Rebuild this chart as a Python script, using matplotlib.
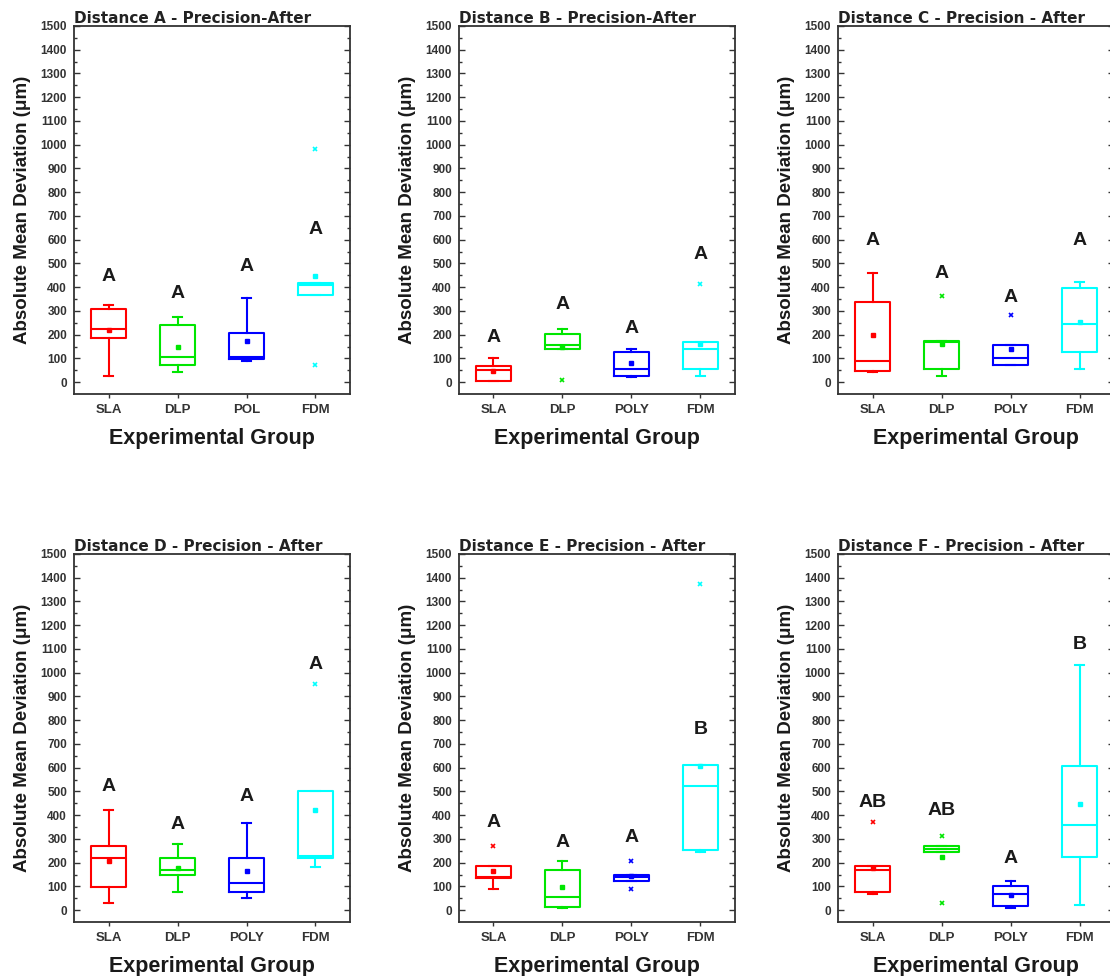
import matplotlib
matplotlib.use("Agg")
import matplotlib.pyplot as plt
import numpy as np

plt.rcParams['font.family'] = ['Liberation Sans', 'DejaVu Sans']

# Data
titles = ["Distance A - Precision-After", "Distance B - Precision-After",
          "Distance C - Precision - After", "Distance D - Precision - After",
          "Distance E - Precision - After", "Distance F - Precision - After"]
group_labels = [["SLA", "DLP", "POL", "FDM"],
                ["SLA", "DLP", "POLY", "FDM"],
                ["SLA", "DLP", "POLY", "FDM"],
                ["SLA", "DLP", "POLY", "FDM"],
                ["SLA", "DLP", "POLY", "FDM"],
                ["SLA", "DLP", "POLY", "FDM"]]
colors = ['#FF0000', '#00E600', '#0000FF', '#00FFFF']

q1 = [[187, 74, 98, 369],
      [6, 138, 24, 56],
      [49, 56, 74, 126],
      [98, 149, 75, 218],
      [135, 15, 124, 255],
      [75, 243, 18, 225]]
med = [[225, 105, 105, 407],
       [52, 157, 56, 138],
       [88, 171, 101, 246],
       [218, 169, 113, 229],
       [138, 56, 138, 521],
       [170, 257, 68, 359]]
q3 = [[306, 239, 206, 418],
      [67, 201, 125, 169],
      [337, 174, 157, 396],
      [269, 218, 218, 501],
      [187, 169, 149, 612],
      [187, 269, 100, 606]]
whis_lo = [[25, 42, 91, 369],
           [6, 138, 21, 24],
           [42, 25, 74, 56],
           [32, 75, 51, 183],
           [89, 8, 124, 243],
           [70, 243, 8, 23]]
whis_hi = [[323, 274, 355, 418],
           [103, 222, 140, 169],
           [459, 174, 157, 421],
           [422, 279, 366, 501],
           [187, 208, 149, 612],
           [187, 269, 124, 1031]]
means = [[218, 147, 173, 447],
         [46, 147, 80, 162],
         [197, 162, 140, 253],
         [208, 176, 166, 423],
         [166, 96, 145, 605],
         [177, 222, 65, 447]]
outliers = [[[], [], [], [980, 73]],
            [[], [11], [], [412]],
            [[], [362], [284], []],
            [[], [], [], [954]],
            [[272], [], [208, 89], [1372]],
            [[370], [311, 32], [], []]]
letters = [["A", "A", "A", "A"],
           ["A", "A", "A", "A"],
           ["A", "A", "A", "A"],
           ["A", "A", "A", "A"],
           ["A", "A", "A", "B"],
           ["AB", "AB", "A", "B"]]
letter_y = [[445, 375, 487, 643],
            [187, 327, 225, 538],
            [597, 456, 358, 597],
            [521, 359, 478, 1034],
            [369, 286, 304, 760],
            [454, 419, 218, 1119]]

fig = plt.figure(figsize=(11.1, 9.76), dpi=100)

lefts = [0.0667, 0.4135, 0.755]
bottoms = [0.5963, 0.0553]
w, h = 0.2486, 0.3771

for i in range(6):
    ax = fig.add_axes([lefts[i % 3], bottoms[i // 3], w, h])
    stats = []
    for j in range(4):
        stats.append(dict(med=med[i][j], q1=q1[i][j], q3=q3[i][j],
                          whislo=whis_lo[i][j], whishi=whis_hi[i][j],
                          mean=means[i][j], fliers=outliers[i][j]))
    res = ax.bxp(stats, positions=[1, 2, 3, 4], widths=0.5, showmeans=True,
                 capwidths=0.12, patch_artist=False)
    for j, c in enumerate(colors):
        res['boxes'][j].set(color=c, linewidth=1.5)
        res['medians'][j].set(color=c, linewidth=1.5)
        for k in (2 * j, 2 * j + 1):
            res['whiskers'][k].set(color=c, linewidth=1.5)
            res['caps'][k].set(color=c, linewidth=1.5)
        res['means'][j].set(marker='s', markersize=2.2, markerfacecolor=c,
                            markeredgecolor=c)
        res['fliers'][j].set(marker='x', markersize=3.5, markeredgecolor=c,
                             markeredgewidth=1.2)
        ax.text(j + 1, letter_y[i][j], letters[i][j], ha='center', va='center',
                fontsize=14, fontweight='bold', color='#1a1a1a')

    ax.set_xlim(0.5, 4.5)
    ax.set_ylim(-50, 1500)
    ax.set_yticks(np.arange(0, 1501, 100))
    ax.set_yticks(np.arange(50, 1500, 100), minor=True)
    ax.set_xticks([1, 2, 3, 4])
    ax.set_xticklabels(group_labels[i], fontsize=9.5, fontweight='bold', color='#333333')
    for lab in ax.get_yticklabels():
        lab.set_fontsize(8.5)
        lab.set_fontweight('bold')
        lab.set_color('#333333')
    ax.tick_params(axis='y', which='both', direction='in', right=True, left=True,
                   length=4, width=1, color='#333333', pad=5)
    ax.tick_params(axis='y', which='minor', length=2)
    ax.tick_params(axis='x', direction='out', length=3, width=1, color='#333333', pad=4)
    for sp in ax.spines.values():
        sp.set_linewidth(1.3)
        sp.set_color('#333333')

    ax.set_title(titles[i], loc='left', fontsize=11, fontweight='bold',
                 color='#222222', pad=2, family='DejaVu Sans')
    ax.set_xlabel("Experimental Group", fontsize=15.5, fontweight='bold',
                  color='#1a1a1a', labelpad=9)
    ax.set_ylabel("Absolute Mean Deviation (μm)", fontsize=13.5, fontweight='bold',
                  color='#1a1a1a', labelpad=7)

fig.savefig("out.png", dpi=100)
